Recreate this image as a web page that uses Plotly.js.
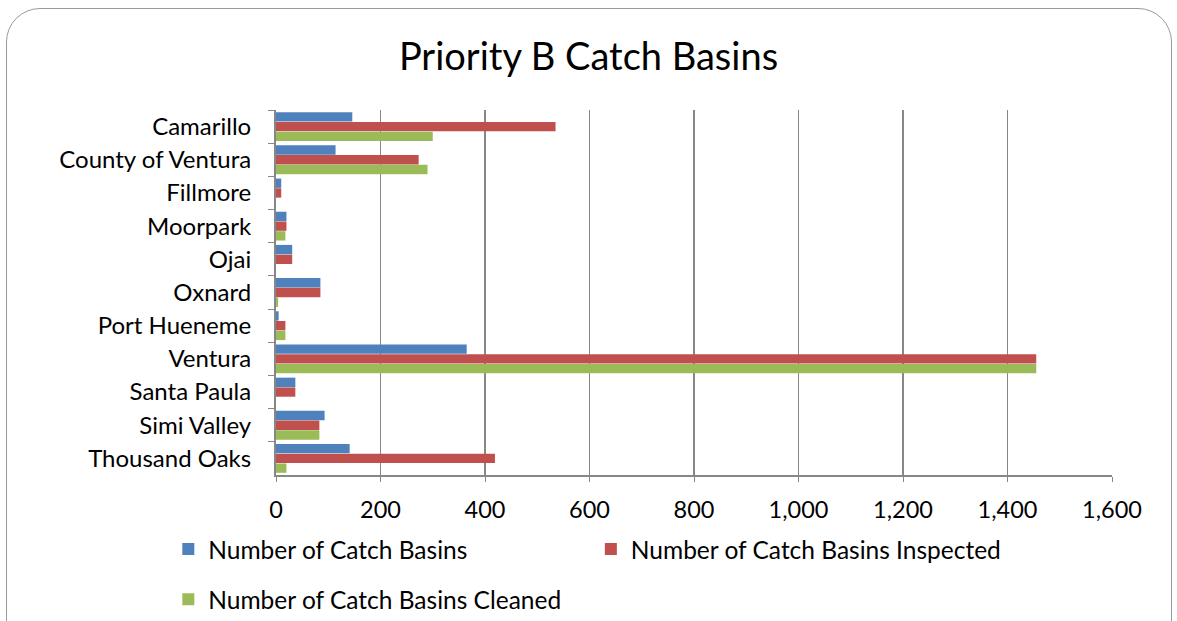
<!DOCTYPE html>
<html>
<head>
<meta charset="utf-8">
<script src="https://cdn.plot.ly/plotly-3.0.1.min.js"></script>
<style>
  html, body { margin: 0; padding: 0; background: #fff; overflow: hidden; }
  #frame { position: absolute; left: 6px; top: 8px; width: 1166px; height: 660px;
           border: 1.5px solid #9a9a9a; border-radius: 34px; box-sizing: border-box; }
  #chart { position: absolute; left: 0; top: 0; width: 1177px; height: 621px; }
</style>
</head>
<body>
<div id="frame"></div>
<div id="chart"></div>
<script>
const categories = ["Camarillo", "County of Ventura", "Fillmore", "Moorpark", "Ojai", "Oxnard",
  "Port Hueneme", "Ventura", "Santa Paula", "Simi Valley", "Thousand Oaks"];
const totalBasins = [146, 114, 10, 20, 31, 85, 5, 365, 37, 93, 141];
const inspected   = [535, 273, 10, 20, 31, 85, 18, 1455, 37, 83, 419];
const cleaned     = [300, 290, 0, 18, 0, 4, 18, 1455, 0, 83, 20];
const seriesNames = ["Number of Catch Basins", "Number of Catch Basins Inspected", "Number of Catch Basins Cleaned"];
const colors = ["#4F81BD", "#C0504D", "#9BBB59"];
const legendIds = ["legend", "legend2", "legend3"];

const font = "Lato, 'Open Sans', sans-serif";
const data = [totalBasins, inspected, cleaned].map((vals, i) => ({
  type: "bar", orientation: "h", y: categories, x: vals, name: seriesNames[i],
  marker: { color: colors[i] }, hoverinfo: "x+y", legend: legendIds[i]
}));

const legendBase = {
  orientation: "h", xref: "container", yref: "container", xanchor: "left",
  yanchor: "top", font: { size: 24.5 }, itemwidth: 30, bgcolor: "rgba(0,0,0,0)"
};

const layout = {
  width: 1177, height: 621,
  paper_bgcolor: "rgba(0,0,0,0)", plot_bgcolor: "rgba(0,0,0,0)",
  margin: { l: 276, r: 65, t: 110, b: 146 },
  font: { family: font, size: 24, color: "#000" },
  title: { text: "Priority B Catch Basins", font: { family: font, size: 38, color: "#000" },
           x: 0.5, xanchor: "center", y: 0.908, yanchor: "middle" },
  barmode: "group", bargap: 0.12, bargroupgap: 0.04,
  xaxis: { range: [0, 1600], dtick: 200, tickformat: ",d", showgrid: true,
           gridcolor: "#878787", gridwidth: 1.7, showline: true, linecolor: "#878787", linewidth: 1.7,
           ticks: "outside", ticklen: 5, tickcolor: "#878787", zeroline: false,
           tickfont: { size: 23.5 }, ticklabelstandoff: 8 },
  yaxis: { autorange: "reversed", showline: true, linecolor: "#878787", linewidth: 2,
           ticks: "outside", tickson: "boundaries", ticklen: 6, tickcolor: "#878787",
           showgrid: false, zeroline: false, tickfont: { size: 24 }, ticklabelstandoff: 18 },
  legend:  Object.assign({}, legendBase, { x: 0.143, y: 0.152 }),
  legend2: Object.assign({}, legendBase, { x: 0.502, y: 0.152 }),
  legend3: Object.assign({}, legendBase, { x: 0.143, y: 0.071 }),
  showlegend: true
};

Plotly.newPlot("chart", data, layout, { displayModeBar: false, staticPlot: true });
</script>
</body>
</html>
